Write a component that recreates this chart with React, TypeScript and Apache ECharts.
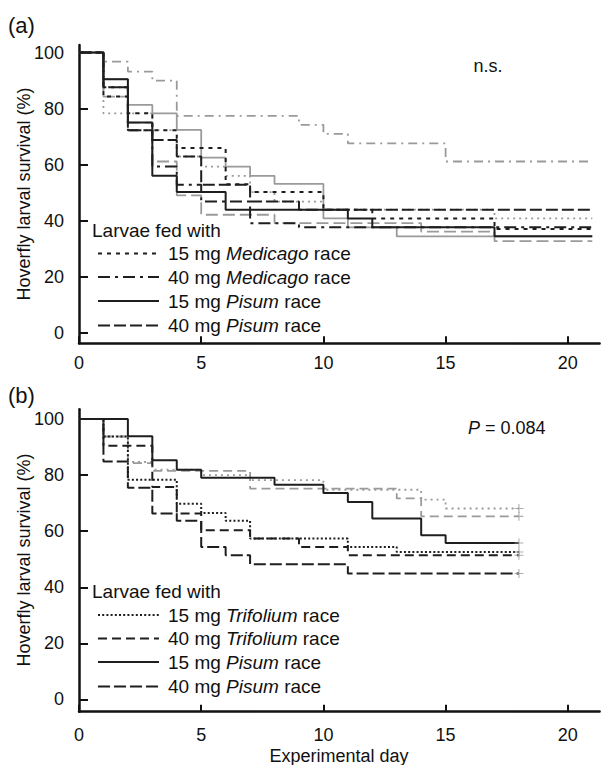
import React, { useEffect, useRef } from "react";
import * as echarts from "echarts";

// ---------- data ----------
const X_TICKS = [0, 5, 10, 15, 20];
const Y_TICKS = [0, 20, 40, 60, 80, 100];

// Panel (a): Kaplan-Meier steps [day, survival %]
const A_GRAY_DASHDOT = [[0,100],[1,96.8],[2,93.2],[3,90],[4,77.4],[9,74.2],[10,71],[11,67.6],[15,61.1],[21,61.1]];
const A_GRAY_SOLID = [[0,100],[1,90.5],[2,81.3],[3,78.3],[4,72.4],[5,62.5],[6,59.3],[7,56],[8,53.1],[10,40.8],[11,37.6],[13,34.4],[21,34.4]];
const A_GRAY_DOTTED = [[0,100],[1,78.3],[3,72.3],[4,62.9],[5,59.3],[6,56],[7,50.2],[8,46.8],[10,43.9],[17,40.8],[21,40.8]];
const A_GRAY_LONGDASH = [[0,100],[1,84.3],[2,75],[3,61.1],[4,49],[5,42.1],[8,39.1],[14,36.1],[17,32.7],[21,32.7]];
const A_MED15 = [[0,100],[1,84.3],[2,78.3],[3,72.3],[4,65.9],[6,53],[7,50.2],[10,43.9],[12,40.8],[17,37],[21,37]];
const A_MED40 = [[0,100],[1,87.6],[2,72.3],[3,59.3],[4,52.8],[5,46.8],[7,39.1],[9,37.6],[21,37.6]];
const A_PIS15 = [[0,100],[1,90.5],[2,75],[3,56],[4,50.2],[6,43.9],[11,40.8],[12,37.6],[17,34.4],[21,34.4]];
const A_PIS40 = [[0,100],[1,87.6],[2,72.3],[3,68.8],[4,62.9],[5,52.8],[7,46.8],[9,43.9],[21,43.9]];

// Panel (b)
const B_GRAY_DOTTED = [[0,100],[1,93.8],[2,84.7],[3,82],[5,80],[7,78.2],[10,74.8],[14,71.3],[15,68.1],[18,68.1]];
const B_GRAY_DASH = [[0,100],[1,93.8],[2,84.3],[3,81.5],[7,75.2],[13,71.7],[14,65.3],[18,65.3]];
const B_TRI15 = [[0,100],[1,93.8],[2,78.4],[4,69.8],[5,66.5],[6,63.7],[7,57.4],[11,54.4],[13,52.6],[18,52.6]];
const B_TRI40 = [[0,100],[1,90.5],[3,75.8],[4,66.3],[5,60.3],[7,57.4],[9,54.4],[11,51.4],[18,51.4]];
const B_PIS15 = [[0,100],[2,93.9],[3,85.3],[4,81.9],[5,79.1],[8,76.6],[10,73.6],[11,70.4],[12,64.5],[14,58.6],[15,55.8],[18,55.8]];
const B_PIS40 = [[0,100],[1,84.9],[2,75.5],[3,66.3],[4,63.7],[5,54.4],[6,51.4],[7,48.2],[11,44.9],[18,44.9]];

const LEGEND_A = [
  { pre: "15 mg ", it: "Medicago", post: " race" },
  { pre: "40 mg ", it: "Medicago", post: " race" },
  { pre: "15 mg ", it: "Pisum", post: " race" },
  { pre: "40 mg ", it: "Pisum", post: " race" },
];
const LEGEND_B = [
  { pre: "15 mg ", it: "Trifolium", post: " race" },
  { pre: "40 mg ", it: "Trifolium", post: " race" },
  { pre: "15 mg ", it: "Pisum", post: " race" },
  { pre: "40 mg ", it: "Pisum", post: " race" },
];

// ---------- styles ----------
const FONT = "'Liberation Sans', Arial, Helvetica, sans-serif";
const BLACK = "#1e1e1e";
const GRAY = "#9a9a9a";
const DASH = {
  shortDash: [4, 5],
  dashDot: [12, 5, 3, 5],
  longDash: [12, 4],
  dotted: [2, 2.2],
  medDash: [9, 5],
  grayDashDot: [9, 5, 2, 5],
  grayDotted: [2, 4],
  grayLong: [12, 5],
};

const PLUS = "path://M4.4,0h1.2v4.4h4.4v1.2h-4.4v4.4h-1.2v-4.4h-4.4v-1.2h4.4z";

function line(data: number[][], color: string, dash: any, idx: number, width = 2) {
  return {
    type: "line",
    step: "end",
    xAxisIndex: idx,
    yAxisIndex: idx,
    data,
    symbol: "none",
    silent: true,
    lineStyle: { color, width, type: dash },
    z: color === BLACK ? 3 : 2,
  };
}

function xAxis(idx: number, margin: number) {
  return {
    type: "value",
    gridIndex: idx,
    min: 0,
    max: 21.3,
    axisLine: { show: true, onZero: false, lineStyle: { color: "#111", width: 2.5 } },
    axisTick: { show: true, inside: true, length: 7, customValues: X_TICKS, lineStyle: { color: "#111", width: 2 } },
    axisLabel: { customValues: X_TICKS, fontSize: 18, color: "#111", margin, fontFamily: FONT },
    splitLine: { show: false },
  };
}

function yAxis(idx: number, min: number, max: number) {
  return {
    type: "value",
    gridIndex: idx,
    min,
    max,
    axisLine: { show: true, onZero: false, lineStyle: { color: "#111", width: 2.5 } },
    axisTick: { show: true, inside: true, length: 9, customValues: Y_TICKS, lineStyle: { color: "#111", width: 2 } },
    axisLabel: { customValues: Y_TICKS, fontSize: 18, color: "#111", margin: 15, fontFamily: FONT },
    splitLine: { show: false },
  };
}

function legendGraphics(titleY: number, rows: number[], items: any[], dashes: any[]) {
  const els: any[] = [
    {
      type: "text",
      x: 92,
      y: titleY,
      style: { text: "Larvae fed with", font: `19px ${FONT}`, fill: "#111", verticalAlign: "middle" },
    },
  ];
  items.forEach((it, i) => {
    els.push({
      type: "line",
      shape: { x1: 98, y1: rows[i], x2: 159, y2: rows[i] },
      style: { stroke: BLACK, lineWidth: 2, lineDash: dashes[i] },
    });
    els.push({
      type: "text",
      x: 168,
      y: rows[i],
      style: {
        text: `{n|${it.pre}}{i|${it.it}}{n|${it.post}}`,
        verticalAlign: "middle",
        rich: {
          n: { fontSize: 19, fontFamily: FONT, fill: "#111" },
          i: { fontSize: 19, fontFamily: FONT, fontStyle: "italic", fill: "#111" },
        },
      },
    });
  });
  return els;
}

export default function App() {
  const ref = useRef<HTMLDivElement>(null);
  useEffect(() => {
    if (!ref.current) return;
    const chart = echarts.init(ref.current, null, { renderer: "svg" });
    const bSeries = [B_GRAY_DOTTED, B_GRAY_DASH, B_TRI15, B_TRI40, B_PIS15, B_PIS40];
    const option: any = {
      animation: false,
      backgroundColor: "#fff",
      textStyle: { fontFamily: FONT },
      grid: [
        { left: 79, top: 45, width: 520.6, height: 298.3 },
        { left: 79, top: 409.3, width: 520.6, height: 302.4 },
      ],
      xAxis: [xAxis(0, 11), xAxis(1, 14)],
      yAxis: [yAxis(0, -3.8, 102.7), yAxis(1, -4.4, 103.5)],
      series: [
        line(A_GRAY_DASHDOT, GRAY, DASH.grayDashDot, 0, 1.8),
        line(A_GRAY_SOLID, GRAY, "solid", 0, 1.8),
        line(A_GRAY_DOTTED, GRAY, DASH.grayDotted, 0, 1.8),
        line(A_GRAY_LONGDASH, GRAY, DASH.grayLong, 0, 1.8),
        line(A_MED15, BLACK, DASH.shortDash, 0),
        line(A_MED40, BLACK, DASH.dashDot, 0),
        line(A_PIS15, BLACK, "solid", 0),
        line(A_PIS40, BLACK, DASH.longDash, 0),
        line(B_GRAY_DOTTED, GRAY, DASH.grayDotted, 1, 1.8),
        line(B_GRAY_DASH, GRAY, DASH.medDash, 1, 1.8),
        line(B_TRI15, BLACK, DASH.dotted, 1),
        line(B_TRI40, BLACK, DASH.medDash, 1),
        line(B_PIS15, BLACK, "solid", 1),
        line(B_PIS40, BLACK, DASH.longDash, 1),
        {
          type: "scatter",
          xAxisIndex: 1,
          yAxisIndex: 1,
          symbol: PLUS,
          symbolSize: 9,
          silent: true,
          itemStyle: { color: GRAY },
          data: bSeries.map((d) => d[d.length - 1]),
          z: 4,
        },
      ],
      graphic: [
        { type: "text", x: 8, y: 25, style: { text: "(a)", font: `22px ${FONT}`, fill: "#111", verticalAlign: "middle" } },
        { type: "text", x: 8, y: 395, style: { text: "(b)", font: `22px ${FONT}`, fill: "#111", verticalAlign: "middle" } },
        {
          type: "text", x: 24, y: 194, rotation: Math.PI / 2,
          style: { text: "Hoverfly larval survival (%)", font: `18px ${FONT}`, fill: "#111", align: "center", verticalAlign: "middle" },
        },
        {
          type: "text", x: 24, y: 560, rotation: Math.PI / 2,
          style: { text: "Hoverfly larval survival (%)", font: `18px ${FONT}`, fill: "#111", align: "center", verticalAlign: "middle" },
        },
        { type: "text", x: 488, y: 66, style: { text: "n.s.", font: `18px ${FONT}`, fill: "#111", align: "center", verticalAlign: "middle" } },
        {
          type: "text", x: 468, y: 428,
          style: {
            text: "{i|P}{n| = 0.084}",
            verticalAlign: "middle",
            rich: {
              i: { fontSize: 18, fontFamily: FONT, fontStyle: "italic", fill: "#111" },
              n: { fontSize: 18, fontFamily: FONT, fill: "#111" },
            },
          },
        },
        { type: "text", x: 339, y: 756, style: { text: "Experimental day", font: `18px ${FONT}`, fill: "#111", align: "center", verticalAlign: "middle" } },
        ...legendGraphics(230.7, [253.5, 277, 301, 325.5], LEGEND_A, [DASH.shortDash, DASH.dashDot, [], DASH.longDash]),
        ...legendGraphics(591.7, [615, 638.5, 662, 686.5], LEGEND_B, [DASH.dotted, DASH.medDash, [], DASH.longDash]),
      ],
    };
    chart.setOption(option);
    return () => chart.dispose();
  }, []);
  return (
    <div
      ref={ref}
      style={{ position: "absolute", left: 0, top: 0, width: 608, height: 765, background: "#fff" }}
    />
  );
}
